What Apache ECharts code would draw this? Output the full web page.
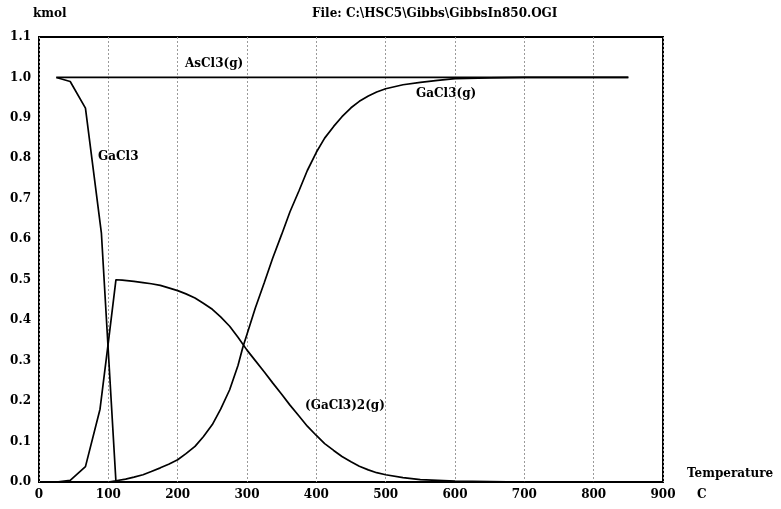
<!DOCTYPE html>
<html>
<head>
<meta charset="utf-8">
<script src="https://cdn.jsdelivr.net/npm/echarts@6/dist/echarts.min.js"></script>
<style>html,body{margin:0;padding:0;background:#fff}#c{width:781px;height:509px}</style>
</head>
<body>
<div id="c"></div>
<script>
// Temperature (C) and amounts (kmol)
var asCl3T = [25, 850];
var asCl3V = [1.0, 1.0];

var gaCl3T = [25, 45, 67, 90, 111];
var gaCl3V = [1.0, 0.99, 0.924, 0.615, 0.0];

var dimerT = [25, 45, 67, 88, 100, 111, 120, 137, 150, 162, 175, 187, 200, 212, 225, 237, 250, 262, 275, 287, 300, 312, 325, 337, 350, 362, 375, 387, 400, 412, 425, 437, 450, 462, 475, 487, 500, 525, 550, 575, 600, 650, 700, 850];
var dimerV = [0.0, 0.004, 0.038, 0.18, 0.345, 0.5, 0.499, 0.496, 0.493, 0.49, 0.486, 0.48, 0.473, 0.465, 0.455, 0.442, 0.427, 0.408, 0.385, 0.358, 0.326, 0.3, 0.272, 0.245, 0.217, 0.19, 0.163, 0.138, 0.115, 0.095, 0.078, 0.063, 0.05, 0.039, 0.03, 0.023, 0.018, 0.011, 0.006, 0.004, 0.002, 0.001, 0.0, 0.0];

var gaCl3gT = [100, 111, 125, 137, 150, 162, 175, 187, 200, 212, 225, 237, 250, 262, 275, 287, 294, 300, 312, 325, 337, 350, 362, 375, 387, 400, 412, 425, 437, 450, 462, 475, 487, 500, 525, 550, 575, 600, 650, 700, 850];
var gaCl3gV = [0.0, 0.003, 0.007, 0.012, 0.018, 0.026, 0.035, 0.044, 0.055, 0.07, 0.088, 0.112, 0.142, 0.18, 0.228, 0.288, 0.333, 0.365, 0.43, 0.493, 0.553, 0.612, 0.668, 0.72, 0.77, 0.815, 0.85, 0.879, 0.903, 0.925, 0.941, 0.954, 0.964, 0.972, 0.982, 0.988, 0.993, 0.997, 0.999, 1.0, 1.0];

var xTicks = [0, 100, 200, 300, 400, 500, 600, 700, 800, 900];
var yTicks = ['0.0','0.1','0.2','0.3','0.4','0.5','0.6','0.7','0.8','0.9','1.0','1.1'];

function pairs(t, v) { return t.map(function (x, i) { return [x, v[i]]; }); }

var FONT = 'DejaVu Serif';
var txt = { fontFamily: FONT, fontWeight: 'bold', fontSize: 12, fill: '#000' };
function label(s, x, y) {
  return { type: 'text', left: x, top: y, style: Object.assign({ text: s }, txt) };
}

var lineStyle = { color: '#000', width: 1.7 };
function ser(name, data) {
  return { name: name, type: 'line', data: data, showSymbol: false, symbol: 'none',
           lineStyle: lineStyle, animation: false, z: 3 };
}

var chart = echarts.init(document.getElementById('c'), null, { renderer: 'canvas' });
chart.setOption({
  backgroundColor: '#fff',
  animation: false,
  grid: { left: 39, right: 118, top: 37, bottom: 27, show: true, borderColor: '#000', borderWidth: 2, containLabel: false },
  xAxis: {
    type: 'value', min: xTicks[0], max: xTicks[xTicks.length - 1], interval: 100,
    axisLine: { show: false }, axisTick: { show: false },
    axisLabel: { margin: 7, color: '#000', fontFamily: FONT, fontWeight: 'bold', fontSize: 12 },
    splitLine: { show: true, lineStyle: { color: '#9a9a9a', width: 1, type: [2, 2] } }
  },
  yAxis: {
    type: 'value', min: 0, max: 1.1, interval: 0.1,
    axisLine: { show: false }, axisTick: { show: false },
    axisLabel: { margin: 8, color: '#000', fontFamily: FONT, fontWeight: 'bold', fontSize: 12,
      formatter: function (v) { return yTicks[Math.round(v * 10)]; } },
    splitLine: { show: false }
  },
  series: [
    ser('AsCl3(g)', pairs(asCl3T, asCl3V)),
    ser('GaCl3', pairs(gaCl3T, gaCl3V)),
    ser('(GaCl3)2(g)', pairs(dimerT, dimerV)),
    ser('GaCl3(g)', pairs(gaCl3gT, gaCl3gV))
  ],
  graphic: [
    label('kmol', 33, 8),
    label('File: C:\\HSC5\\Gibbs\\GibbsIn850.OGI', 312, 8),
    label('AsCl3(g)', 185, 58),
    label('GaCl3', 98, 151),
    label('GaCl3(g)', 416, 88),
    label('(GaCl3)2(g)', 305, 400),
    label('Temperature', 687, 468),
    label('C', 697, 489)
  ]
});
</script>
</body>
</html>
